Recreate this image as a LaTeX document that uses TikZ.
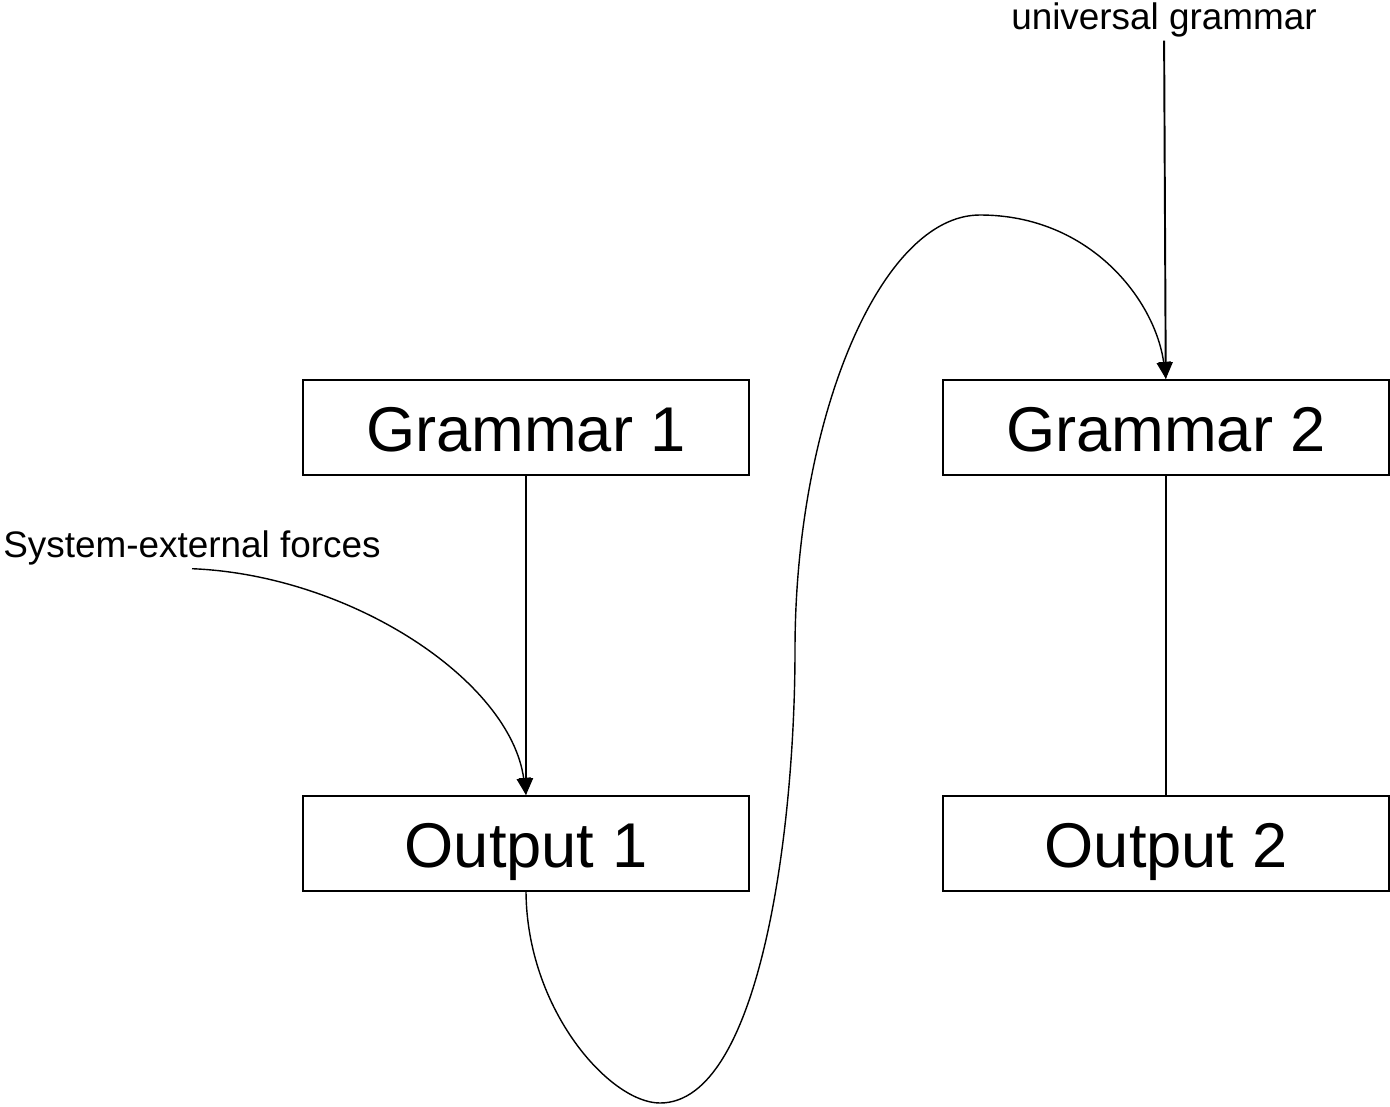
\documentclass[tikz,border=0pt]{standalone}
\usepackage{fontspec}
\setmainfont{Liberation Sans}
\usetikzlibrary{arrows.meta}

\begin{document}
\begin{tikzpicture}[x=0.02cm,y=-0.02cm,>={Triangle[width=0.28cm,length=0.34cm]},
    semithick,
    gbox/.style={draw,line width=1.1pt,minimum width=8.92cm,minimum height=1.9cm,
      inner sep=0pt,text height=0.94cm,text depth=0pt,
      font=\fontsize{36}{40}\selectfont},
    lbl/.style={font=\fontsize{21}{25}\selectfont,inner sep=2pt},
    curve/.style={->,line width=0.8pt}]
  \useasboundingbox (0,0) rectangle (1390,1106);
  \node[gbox] (g1) at (526,427.5) {Grammar 1};
  \node[gbox] (g2) at (1166,427.5) {Grammar 2};
  \node[gbox] (o1) at (526,843.5) {Output 1};
  \node[gbox] (o2) at (1166,843.5) {Output 2};
  \node[lbl,anchor=base] (ug) at (1164,29) {universal grammar};
  \node[lbl,anchor=base] (sef) at (192,557) {System-external forces};

  \draw[->,line width=1.1pt] (g1) -- (o1);
  \draw[line width=1.1pt] (g2) -- (o2);
  \draw[->,line width=1.1pt] (ug) -- (g2);
  \draw[curve] (sef.south) .. controls (350,575) and (510,680) .. (o1.north);
  \draw[curve] (o1.south) .. controls (527,1010) and (610,1103) .. (660,1103)
    .. controls (760,1103) and (795,830) .. (795,650)
    .. controls (795,420) and (880,215) .. (980,215)
    .. controls (1090,215) and (1155,300) .. (g2.north);
\end{tikzpicture}
\end{document}
